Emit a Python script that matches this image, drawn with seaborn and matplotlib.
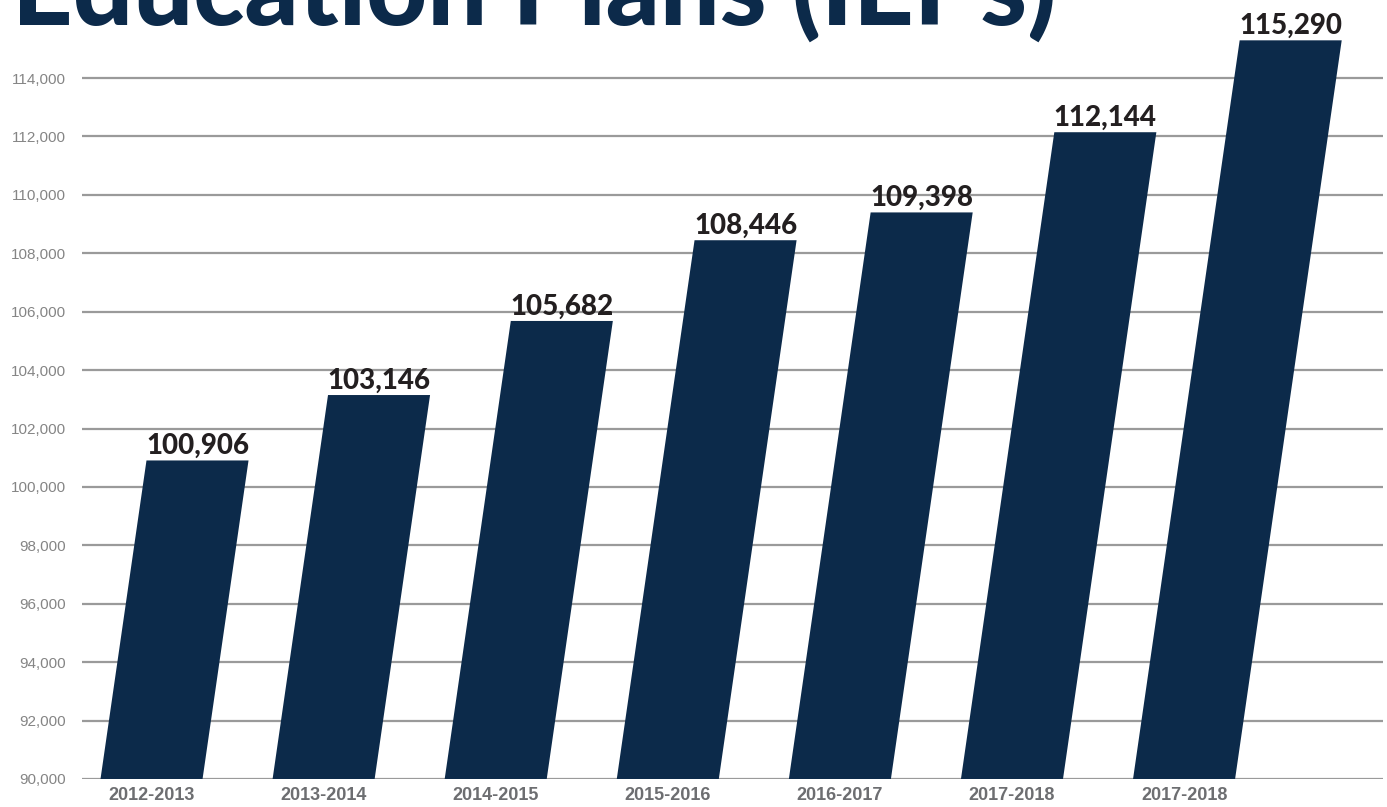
import math
import seaborn as sns
import matplotlib.pyplot as plt
import pandas as pd
from matplotlib.transforms import Affine2D

# data
years = ["2012-2013", "2013-2014", "2014-2015", "2015-2016",
         "2016-2017", "2017-2018", "2017-2018"]
ieps = [100906, 103146, 105682, 108446, 109398, 112144, 115290]
yticks = list(range(90000, 114001, 2000))
title = "Education Plans (IEPs)"

navy = "#0c2a4a"
grey_line = "#9a9a9a"
base = 90000
slant = 2.45e-5   # x shift (in category units) per unit of height


def main():
    sns.set_theme(style="white")
    plt.rcParams['font.family'] = ['Lato', 'DejaVu Sans']

    fig = plt.figure(figsize=(13.87, 8.07), dpi=100)
    W, H = 1387, 807
    ax = fig.add_axes([82 / W, (H - 779) / H, (1383 - 82) / W, 779 / H])

    df = pd.DataFrame({"slot": range(len(ieps)), "ieps": ieps})
    sns.barplot(data=df, x="slot", y="ieps", color=navy, saturation=1,
                width=0.593, ax=ax)

    ax.set_xlim(-0.404, 7.156)
    ax.set_ylim(base, base + 779 / 0.029208)

    # lean every bar to the right
    skew = (Affine2D().translate(0, -base)
            .skew(math.atan(slant), 0).translate(0, base))
    for p in ax.patches:
        p.set_transform(skew + ax.transData)
        p.set_edgecolor("none")

    for i, v in enumerate(ieps):
        ax.annotate(f"{v:,}", (i + slant * (v - base), v),
                    xytext=(0, 4.5), textcoords="offset points",
                    ha="center", va="baseline", fontsize=20,
                    fontweight="black", color="#231f20")

    ax.set_yticks(yticks)
    ax.set_yticklabels([f"{t:,}" for t in yticks], family="Liberation Sans",
                       fontsize=11, color="#858585")
    ax.set_xticks(range(len(years)))
    ax.set_xticklabels(years, family="Liberation Sans", fontsize=13,
                       fontweight="bold", color="#6d6e71")
    ax.tick_params(axis="y", length=0, pad=11.5)
    ax.tick_params(axis="x", length=0, pad=6)
    ax.set_xlabel("")
    ax.set_ylabel("")
    ax.grid(axis="y", color=grey_line, linewidth=1.6)
    ax.grid(axis="x", visible=False)
    ax.set_axisbelow(True)
    sns.despine(ax=ax, left=True, bottom=True)

    # title sits mostly above the canvas, only its lower part shows
    t = fig.text(12 / W, 1 - 25 / H, title, ha="left", va="baseline",
                 fontsize=80, fontweight="black", color=navy)
    fig.canvas.draw()
    w = t.get_window_extent().width
    t.set_fontsize(80 * 1046 / w)

    fig.savefig("out.png", dpi=100)


if __name__ == "__main__":
    main()
